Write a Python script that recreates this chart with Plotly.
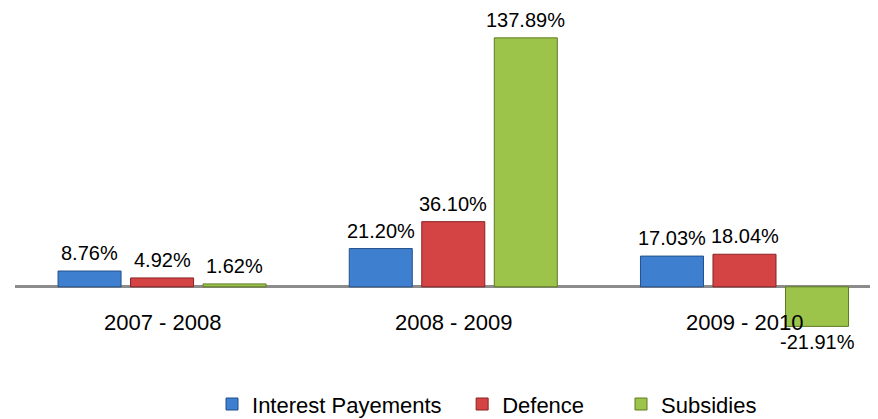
import plotly.graph_objects as go

categories = ["2007 - 2008", "2008 - 2009", "2009 - 2010"]
series_names = ["Interest Payements", "Defence", "Subsidies"]
interest = [8.76, 21.20, 17.03]
defence = [4.92, 36.10, 18.04]
subsidies = [1.62, 137.89, -21.91]
colors = ["#3F7FCF", "#D44444", "#9CC44A"]
borders = ["#23508a", "#8a2222", "#5e7a22"]
legend_ids = ["legend", "legend2", "legend3"]
legend_x = [0.2345, 0.522, 0.7046]

FONT = "Liberation Sans, Arial"
BARGAP = 0.253
slot = (1 - BARGAP) / len(series_names)

fig = go.Figure()
xs = list(range(len(categories)))
all_vals = [interest, defence, subsidies]
for name, vals, c, b, lg in zip(series_names, all_vals, colors, borders, legend_ids):
    fig.add_trace(go.Bar(
        x=xs, y=vals, name=name, legend=lg,
        marker=dict(color=c, line=dict(color=b, width=1)),
    ))

# value labels
for j, vals in enumerate(all_vals):
    for i, v in enumerate(vals):
        pos = v >= 0
        fig.add_annotation(
            x=i + (j - (len(all_vals) - 1) / 2) * slot, y=v,
            text=f"{v:.2f}%", showarrow=False,
            yanchor="bottom" if pos else "top",
            yshift=5 if pos else -3,
            font=dict(family=FONT, size=20, color="#000000"),
        )

# category labels
for i, cat in enumerate(categories):
    fig.add_annotation(x=i, y=0, text=cat, showarrow=False, yanchor="middle", yshift=-36,
                       font=dict(family=FONT, size=22, color="#000000"))

legend_common = dict(orientation="h", xref="container", yref="container",
                     xanchor="left", y=0.036, yanchor="middle",
                     font=dict(family=FONT, size=22, color="#000000"),
                     itemwidth=30, bgcolor="rgba(0,0,0,0)")

# page has an 8px body margin, so the figure is sized to fit the 878x419 window
fig.update_layout(
    width=870, height=411,
    margin=dict(l=7, r=1, t=8, b=78),
    paper_bgcolor="white", plot_bgcolor="white",
    barmode="group", bargap=BARGAP, bargroupgap=0.131,
    showlegend=True,
    legend=dict(x=legend_x[0], **legend_common),
    legend2=dict(x=legend_x[1], **legend_common),
    legend3=dict(x=legend_x[2], **legend_common),
    xaxis=dict(range=[-0.505, 2.455], showticklabels=False, showgrid=False, zeroline=False, showline=False),
    yaxis=dict(range=[-30, 150], showticklabels=False, showgrid=False, zeroline=True,
               zerolinecolor="#8c8c8c", zerolinewidth=3, showline=False),
)

fig.write_html("out.html")
